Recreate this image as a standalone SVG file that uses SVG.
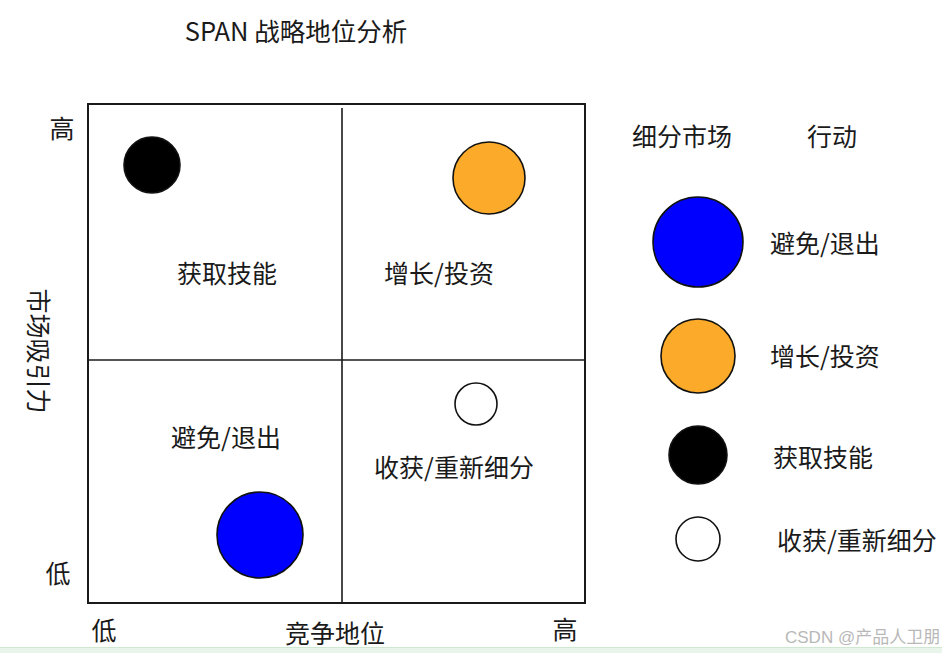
<svg xmlns="http://www.w3.org/2000/svg" width="942" height="653" viewBox="0 0 942 653">
  <style>
    text { font-family: "Noto Sans CJK SC", "Noto Sans", sans-serif; font-size: 25px; fill: #1a1a1a; }
    .c { text-anchor: middle; }
    .frame { fill: none; stroke: #1a1a1a; stroke-width: 2; }
    .div { stroke: #1a1a1a; stroke-width: 1.6; }
    .dot { stroke: #111; stroke-width: 1.6; }
    .blue { fill: #0000ff; }
    .orange { fill: #fbab29; }
    .black { fill: #000000; }
    .white { fill: #ffffff; }
    .wm { font-size: 17px; fill: #b8b8b8; font-family: "Liberation Sans", "Noto Sans CJK SC", sans-serif; }
  </style>
  <rect width="942" height="653" fill="#ffffff"/>
  <text class="c" x="296" y="41" style="font-size:25.5px">SPAN 战略地位分析</text>

  <g id="grid">
    <rect class="frame" x="88" y="104" width="497" height="499"/>
    <line class="div" x1="342" y1="108" x2="342" y2="603"/>
    <line class="div" x1="88" y1="360" x2="585" y2="360"/>
  </g>

  <g id="axes">
    <text class="c" x="62" y="138">高</text>
    <text class="c" x="58" y="583">低</text>
    <text class="c" transform="translate(38,351) rotate(90)" y="9">市场吸引力</text>
    <text class="c" x="104" y="640">低</text>
    <text class="c" x="335" y="643">竞争地位</text>
    <text class="c" x="565" y="639">高</text>
  </g>

  <g id="quadrant-labels">
    <text class="c" x="227" y="283">获取技能</text>
    <text class="c" x="439" y="283">增长/投资</text>
    <text class="c" x="226" y="447">避免/退出</text>
    <text class="c" x="454" y="477">收获/重新细分</text>
  </g>

  <g id="segments">
    <circle class="dot black" cx="152" cy="165" r="28"/>
    <circle class="dot orange" cx="489" cy="178" r="36"/>
    <circle class="dot white" cx="476" cy="404" r="21"/>
    <circle class="dot blue" cx="260" cy="535" r="43"/>
  </g>

  <g id="legend">
    <text class="c" x="682" y="146">细分市场</text>
    <text class="c" x="832" y="146">行动</text>
    <circle class="dot blue" cx="698" cy="242" r="45"/>
    <text x="770" y="253">避免/退出</text>
    <circle class="dot orange" cx="698" cy="356" r="37"/>
    <text x="770" y="366">增长/投资</text>
    <circle class="dot black" cx="698" cy="455" r="29"/>
    <text x="773" y="467">获取技能</text>
    <circle class="dot white" cx="698" cy="539" r="22"/>
    <text x="777" y="550">收获/重新细分</text>
  </g>

  <text class="wm" x="785" y="643">CSDN @产品人卫朋</text>
  <rect x="0" y="647" width="942" height="6" fill="#e9f5ea"/>
  <line x1="0" y1="647.5" x2="942" y2="647.5" stroke="#cfe8d2" stroke-width="1"/>
</svg>
